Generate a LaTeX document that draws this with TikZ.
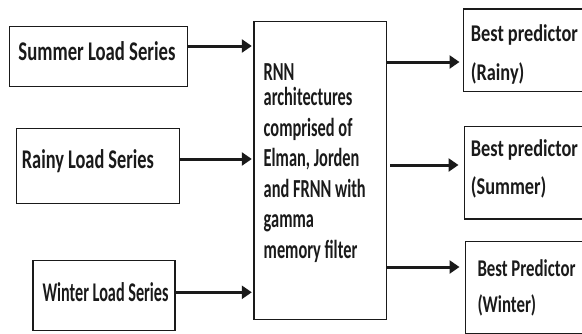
\documentclass[tikz,border=0pt]{standalone}
\usepackage{fontspec}
\setmainfont{Carlito}
\usetikzlibrary{arrows.meta}
\definecolor{ink}{HTML}{1A1A1A}
\begin{document}
\begin{tikzpicture}[x=1pt,y=-1pt,
  box/.style={draw=ink, line width=1.2pt, rectangle, anchor=north west, inner sep=0pt},
  arr/.style={draw=ink, line width=3pt, -{Triangle[length=10pt,width=13pt]}},
  lbl/.style={anchor=base west, inner sep=0pt, text=ink, font=\bfseries\fontsize{27}{32}\selectfont},
  clbl/.style={anchor=base west, inner sep=0pt, text=ink, font=\bfseries\fontsize{26}{30.5}\selectfont},
  rlbl/.style={anchor=base west, inner sep=0pt, text=ink, font=\bfseries\fontsize{24}{#1}\selectfont}]
\useasboundingbox (0,0) rectangle (582,333);
\clip (0,0) rectangle (582,333);
\fill[white] (0,0) rectangle (582,333);

% input boxes
\node[box, minimum width=177.5pt, minimum height=60pt] (sum) at (9,26) {};
\node[box, minimum width=163pt, minimum height=75pt] (rain) at (16,127.5) {};
\node[box, minimum width=142pt, minimum height=70pt] (win) at (32.3,260) {};
\node[lbl] (sumt) at (18.3,60) {\resizebox{157pt}{\height}{Summer Load Series}};
\node[lbl] (raint) at (21.7,168.3) {\resizebox{132pt}{\height}{Rainy Load Series}};
\node[lbl] (wint) at (42.3,301) {\resizebox{126pt}{\height}{Winter Load Series}};

% central box
\node[box, minimum width=132.7pt, minimum height=298.3pt] (rnn) at (253.3,20.7) {};
\node[clbl] (rnnt) at (263.5,80) {\resizebox{102pt}{\height}{\begin{tabular}[t]{@{}l@{}}RNN\\[-5pt]architectures\\comprised of\\Elman, Jorden\\and FRNN with\\gamma\\memory filter\end{tabular}}};

% output boxes
\node[box, minimum width=157pt, minimum height=82.2pt] (out1) at (463,8.3) {};
\node[box, minimum width=156pt, minimum height=92.6pt] (out2) at (464,125.7) {};
\node[box, minimum width=155pt, minimum height=91.8pt] (out3) at (465,240.7) {};
\node[rlbl=38.3] (out1t) at (470.7,41.7) {\resizebox{107pt}{\height}{\begin{tabular}[t]{@{}l@{}}Best predictor\\(Rainy)\end{tabular}}};
\node[rlbl=37.3] (out2t) at (470.7,156.7) {\resizebox{107pt}{\height}{\begin{tabular}[t]{@{}l@{}}Best predictor\\(Summer)\end{tabular}}};
\node[rlbl=36.3] (out3t) at (477.3,276) {\resizebox{98pt}{\height}{\begin{tabular}[t]{@{}l@{}}Best Predictor\\(Winter)\end{tabular}}};

% connectors
\coordinate (a1) at (0,46);
\coordinate (a2) at (0,159);
\coordinate (a3) at (0,292.3);
\draw[arr, shorten >=1.5pt] (sum.east |- a1) -- (rnn.west |- a1);
\draw[arr, shorten >=1.5pt] (rain.east |- a2) -- (rnn.west |- a2);
\draw[arr, shorten >=1.5pt] (win.east |- a3) -- (rnn.west |- a3);
\coordinate (b1) at (0,62);
\coordinate (b2) at (0,165);
\coordinate (b3) at (0,267);
\draw[arr, shorten >=3.5pt] (rnn.east |- b1) -- (out1.west |- b1);
\draw[arr, shorten <=3pt, shorten >=5.5pt] (rnn.east |- b2) -- (out2.west |- b2);
\draw[arr, shorten >=5.5pt] (rnn.east |- b3) -- (out3.west |- b3);
\end{tikzpicture}
\end{document}
